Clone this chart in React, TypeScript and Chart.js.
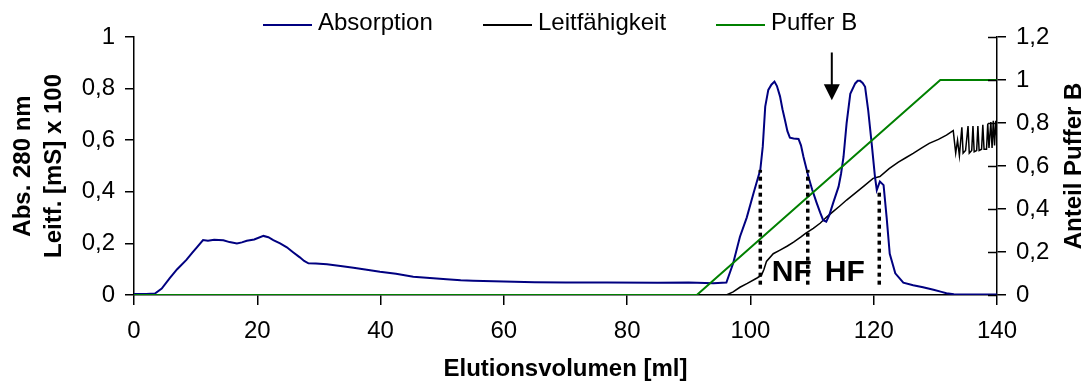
import React, { useEffect, useRef } from "react";
import { Chart, registerables } from "chart.js";

Chart.register(...registerables);

const FONT = "'Liberation Sans', Arial, sans-serif";

// ---- data ----
const seriesNames = ["Absorption", "Leitfähigkeit", "Puffer B"];
const seriesColors = ["#000080", "#000000", "#008000"];

const xTitle = "Elutionsvolumen [ml]";
const yTitle = ["Abs. 280 nm", "Leitf. [mS] x 100"];
const y2Title = "Anteil Puffer B";

const xTickStep = 20;
const yTickStep = 0.2;

const absorption: [number, number][] = [
  [0, 0.004], [2, 0.004], [3.4, 0.006], [4.5, 0.025], [5.8, 0.065], [7, 0.1], [8.5, 0.136],
  [9.5, 0.165], [10.2, 0.185], [11.2, 0.213], [12, 0.21], [13, 0.214], [14.5, 0.212],
  [15.5, 0.205], [16.7, 0.2], [17.5, 0.204], [18.3, 0.21], [19.5, 0.215], [21, 0.229],
  [21.8, 0.224], [22.6, 0.213], [23.7, 0.2], [24.8, 0.185], [25.8, 0.166], [26.9, 0.146],
  [27.6, 0.132], [28.3, 0.123], [29.5, 0.122], [31.3, 0.119], [33.5, 0.112], [35.6, 0.106],
  [37.5, 0.099], [39.9, 0.09], [42.5, 0.082], [45.3, 0.071], [48, 0.066], [50.7, 0.061],
  [53, 0.057], [55, 0.055], [60, 0.052], [65, 0.049], [70, 0.048], [76.7, 0.048], [85, 0.047],
  [90, 0.048], [94, 0.046], [96.1, 0.048], [97.2, 0.123], [98.3, 0.226], [99.4, 0.3],
  [100.5, 0.394], [101.6, 0.485], [102, 0.575], [102.4, 0.73], [102.9, 0.795], [103.4, 0.815],
  [103.9, 0.827], [104.3, 0.81], [104.8, 0.77], [105.2, 0.72], [105.6, 0.678], [106, 0.635],
  [106.4, 0.61], [107, 0.607], [107.8, 0.605], [108.2, 0.58], [108.6, 0.536], [109.4, 0.459],
  [110, 0.41], [110.7, 0.36], [111.3, 0.32], [111.8, 0.29], [112.3, 0.284], [112.8, 0.31],
  [113.4, 0.355], [114.3, 0.42], [114.7, 0.47], [115.1, 0.535], [115.6, 0.665], [116.2, 0.78],
  [117, 0.82], [117.4, 0.83], [117.8, 0.83], [118.2, 0.822], [118.6, 0.807], [119.1, 0.717],
  [119.7, 0.58], [120.2, 0.459], [120.5, 0.407], [121, 0.44], [121.6, 0.426], [122.1, 0.3],
  [122.6, 0.16], [123.5, 0.084], [124.8, 0.048], [126.4, 0.038], [128, 0.03], [129.7, 0.02],
  [131, 0.012], [131.8, 0.007], [133, 0.003], [140, 0.002],
];

const conductivity: [number, number][] = [
  [0, 0], [96.1, 0], [97.2, 0.012], [98.3, 0.03], [99.5, 0.045], [101, 0.065], [101.8, 0.077],
  [102.2, 0.1], [102.6, 0.13], [103.7, 0.16], [104.8, 0.174], [106, 0.19], [107, 0.205],
  [108.2, 0.225], [109, 0.24], [110.2, 0.258], [111.3, 0.278], [112.4, 0.303], [113.5, 0.325],
  [114.5, 0.345], [115.6, 0.368], [117, 0.395], [118.3, 0.42], [119.9, 0.452], [121, 0.459],
  [122.5, 0.49], [124, 0.515], [125.2, 0.532], [126.4, 0.549], [127.8, 0.57], [129, 0.588],
  [130.5, 0.603], [131.8, 0.62], [132.9, 0.637], [133.3, 0.55], [133.6, 0.6], [133.9, 0.54],
  [134.3, 0.65], [134.5, 0.55], [134.9, 0.56], [135.3, 0.655], [135.5, 0.55], [135.9, 0.56],
  [136.1, 0.655], [136.3, 0.555], [136.7, 0.56], [136.9, 0.655], [137.1, 0.56], [137.5, 0.565],
  [137.7, 0.66], [137.9, 0.565], [138.3, 0.565], [138.5, 0.665], [138.7, 0.57], [139, 0.67],
  [139.2, 0.57], [139.4, 0.675], [139.6, 0.58], [139.8, 0.675], [140, 0.6],
];

const bufferB: [number, number][] = [[0, 0], [91.3, 0], [130.8, 1], [140, 1]];

const fractionX = [101.6, 109.3, 120.9];
const fractionTop = [0.485, 0.485, 0.4];
const fractionBottom = 0.04;

const fractionLabels = ["NF", "HF"];
const fractionLabelX = [106.7, 115.3];
const fractionLabelY = 0.054;

const arrowX = 113.2;
const arrowFrom = 0.94;
const arrowTo = 0.755;

const fmt = (v: number) => String(Number(v.toFixed(2))).replace(".", ",");
const pts = (arr: [number, number][]) => arr.map(([x, y]) => ({ x, y }));

const annotate = {
  id: "annotate",
  afterDatasetsDraw(chart: any) {
    const { ctx, scales } = chart;
    const x = scales.x;
    const y = scales.y;
    const y2 = scales.y2;
    ctx.save();
    // inner half of right-axis ticks
    ctx.strokeStyle = "#000";
    ctx.lineWidth = 1.5;
    y2.ticks.forEach((t: any) => {
      const py = Math.round(y2.getPixelForValue(t.value)) + 0.5;
      ctx.beginPath();
      ctx.moveTo(y2.left - 9, py);
      ctx.lineTo(y2.left, py);
      ctx.stroke();
    });
    // arrow
    const ax = x.getPixelForValue(arrowX);
    const top = y.getPixelForValue(arrowFrom);
    const tip = y.getPixelForValue(arrowTo);
    ctx.fillStyle = "#000";
    ctx.lineWidth = 2;
    ctx.beginPath();
    ctx.moveTo(ax, top);
    ctx.lineTo(ax, tip - 14);
    ctx.stroke();
    ctx.beginPath();
    ctx.moveTo(ax - 8, tip - 16);
    ctx.lineTo(ax + 8, tip - 16);
    ctx.lineTo(ax, tip);
    ctx.closePath();
    ctx.fill();
    // fraction labels
    ctx.font = `bold 30px ${FONT}`;
    ctx.textAlign = "center";
    ctx.textBaseline = "alphabetic";
    fractionLabels.forEach((s, i) => {
      ctx.fillText(s, x.getPixelForValue(fractionLabelX[i]), y.getPixelForValue(fractionLabelY));
    });
    ctx.restore();
  },
  afterDraw(chart: any) {
    const { ctx, scales } = chart;
    const y2 = scales.y2;
    const starts = [263, 483, 716];
    ctx.save();
    ctx.font = `24px ${FONT}`;
    ctx.textAlign = "left";
    ctx.textBaseline = "alphabetic";
    seriesNames.forEach((name, i) => {
      ctx.strokeStyle = seriesColors[i];
      ctx.lineWidth = 2;
      ctx.beginPath();
      ctx.moveTo(starts[i], 25);
      ctx.lineTo(starts[i] + 49, 25);
      ctx.stroke();
      ctx.fillStyle = "#000";
      ctx.fillText(name, starts[i] + 55, 30);
    });
    // right axis title, reading bottom-to-top
    ctx.translate(y2.right - 14, (y2.top + y2.bottom) / 2);
    ctx.rotate(-Math.PI / 2);
    ctx.font = `bold 24px ${FONT}`;
    ctx.textAlign = "center";
    ctx.textBaseline = "middle";
    ctx.fillText(y2Title, 0, 0);
    ctx.restore();
  },
};

export default function App() {
  const ref = useRef<HTMLCanvasElement | null>(null);
  useEffect(() => {
    if (!ref.current) return;
    Chart.defaults.color = "#000";
    Chart.defaults.font.family = FONT;
    const dotted = fractionX.map((fx, i) => ({
      label: `Fraktion ${i + 1}`,
      data: [{ x: fx, y: fractionBottom }, { x: fx, y: fractionTop[i] }],
      borderColor: "#000",
      borderWidth: 3.5,
      borderDash: [4, 4],
      pointRadius: 0,
      yAxisID: "y",
      order: -1,
    }));
    const chart = new Chart(ref.current, {
      type: "line",
      data: {
        datasets: [
          {
            label: seriesNames[0],
            data: pts(absorption),
            borderColor: seriesColors[0],
            borderWidth: 2,
            pointRadius: 0,
            yAxisID: "y",
            order: 1,
          },
          {
            label: seriesNames[1],
            data: pts(conductivity),
            borderColor: seriesColors[1],
            borderWidth: 1.5,
            pointRadius: 0,
            yAxisID: "y",
            order: 2,
          },
          {
            label: seriesNames[2],
            data: pts(bufferB),
            borderColor: seriesColors[2],
            borderWidth: 2,
            pointRadius: 0,
            yAxisID: "y2",
            order: 0,
          },
          ...dotted,
        ],
      },
      options: {
        animation: false,
        responsive: false,
        layout: { padding: { top: 37, left: 0, right: 0, bottom: 0 } },
        plugins: { legend: { display: false }, tooltip: { enabled: false } },
        elements: { line: { tension: 0 } },
        scales: {
          x: {
            type: "linear",
            min: 0,
            max: 140,
            ticks: { stepSize: xTickStep, padding: 12, font: { size: 24 }, color: "#000" },
            grid: { drawOnChartArea: false, drawTicks: true, tickLength: 10, color: "#000", lineWidth: 1.5 },
            border: { display: true, color: "#000", width: 1.5 },
            title: {
              display: true,
              text: xTitle,
              font: { size: 24, weight: "bold" },
              color: "#000",
              padding: { top: 0, bottom: 4 },
            },
            afterFit: (s: any) => { s.height = 93; },
          },
          y: {
            type: "linear",
            position: "left",
            min: 0,
            max: 1,
            ticks: { stepSize: yTickStep, padding: 10, font: { size: 24 }, color: "#000", callback: (v: any) => fmt(Number(v)) },
            grid: { drawOnChartArea: false, drawTicks: true, tickLength: 9, color: "#000", lineWidth: 1.5 },
            border: { display: true, color: "#000", width: 1.5 },
            title: {
              display: true,
              text: yTitle,
              font: { size: 24, weight: "bold", lineHeight: 1.3 },
              color: "#000",
              padding: { top: 8, bottom: 0 },
            },
            afterFit: (s: any) => { s.width = 134; },
          },
          y2: {
            type: "linear",
            position: "right",
            min: 0,
            max: 1.2,
            ticks: { stepSize: yTickStep, padding: 10, font: { size: 24 }, color: "#000", callback: (v: any) => fmt(Number(v)) },
            grid: { drawOnChartArea: false, drawTicks: true, tickLength: 9, color: "#000", lineWidth: 1.5 },
            border: { display: true, color: "#000", width: 1.5 },
            title: { display: false, text: y2Title },
            afterFit: (s: any) => { s.width = 91; },
          },
        },
      },
      plugins: [annotate],
    } as any);
    return () => chart.destroy();
  }, []);
  return (
    <div style={{ position: "absolute", left: 0, top: 0, width: 1088, height: 388, background: "#fff" }}>
      <canvas ref={ref} width={1088} height={388} />
    </div>
  );
}
